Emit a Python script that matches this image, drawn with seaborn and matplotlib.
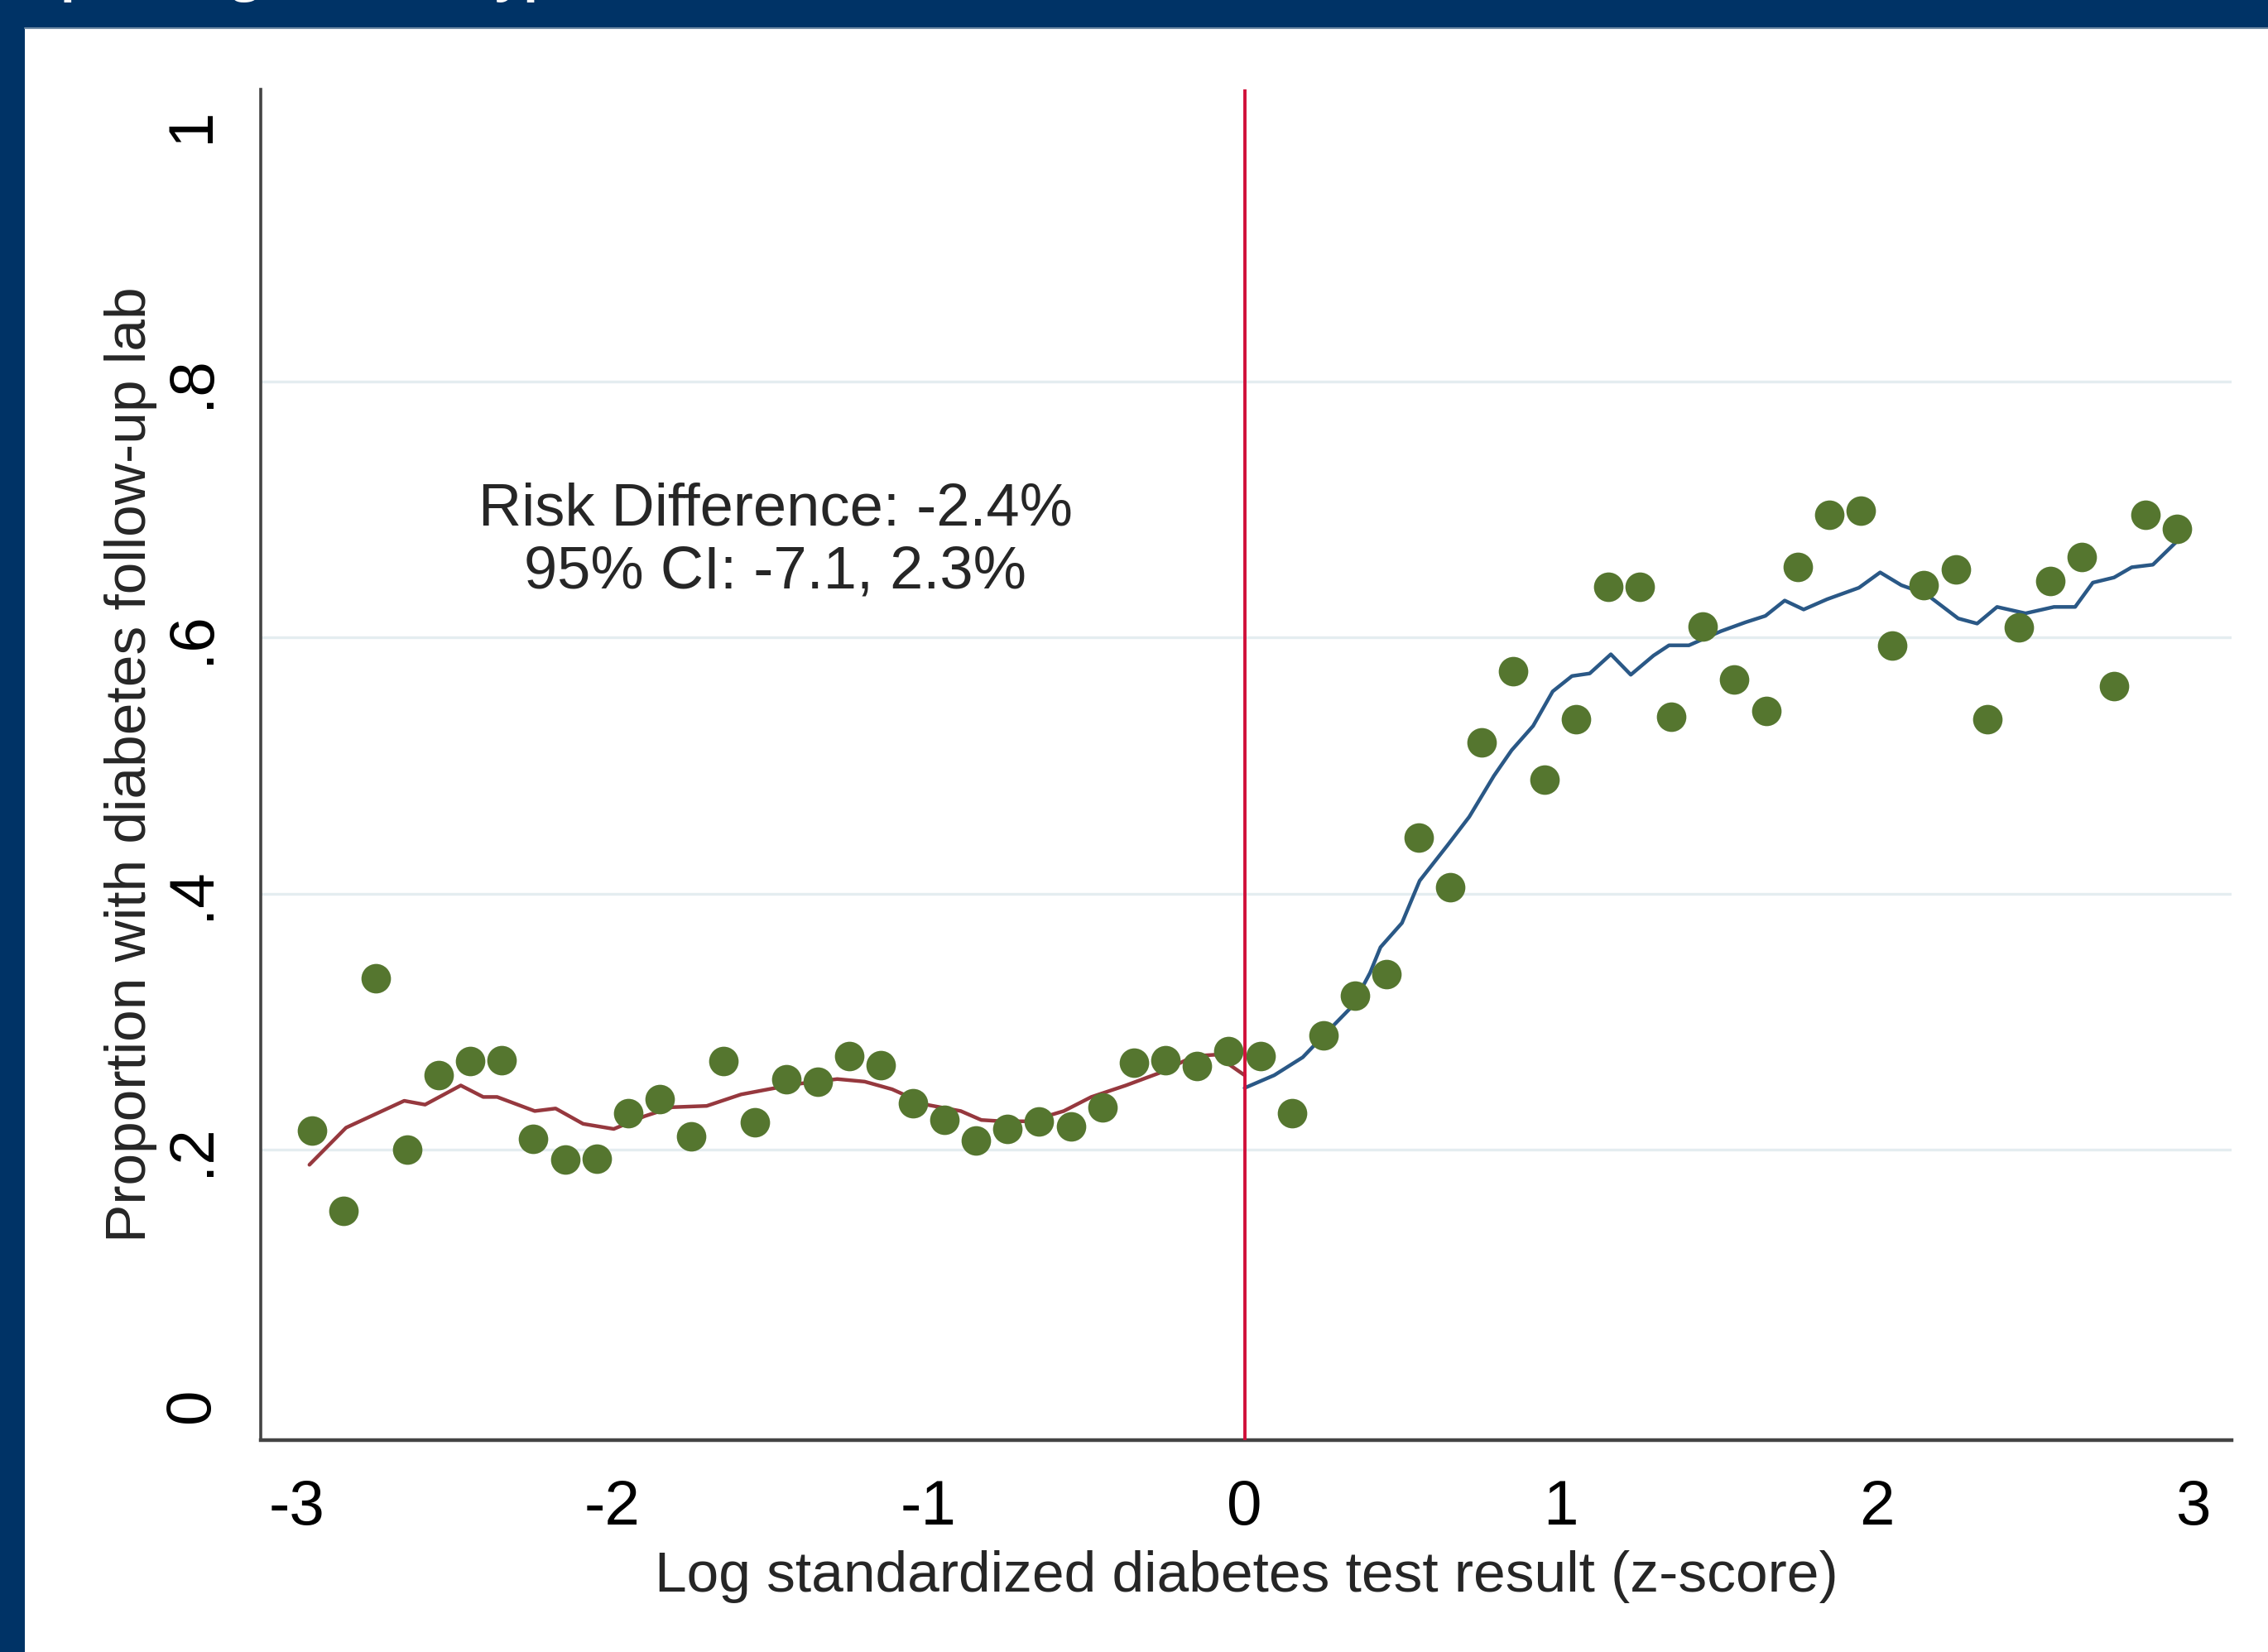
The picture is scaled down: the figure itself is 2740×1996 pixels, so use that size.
import numpy as np
import pandas as pd
import matplotlib
matplotlib.use("Agg")
import matplotlib.pyplot as plt
import seaborn as sns
from matplotlib.patches import Rectangle

# binned means (green dots)
bin_x = [-2.95, -2.85, -2.75, -2.65, -2.55, -2.45, -2.35, -2.25, -2.15, -2.05,
         -1.95, -1.85, -1.75, -1.65, -1.55, -1.45, -1.35, -1.25, -1.15, -1.05,
         -0.95, -0.85, -0.75, -0.65, -0.55, -0.45, -0.35, -0.25, -0.15, -0.05,
         0.05, 0.15, 0.25, 0.35, 0.45, 0.55, 0.65, 0.75, 0.85, 0.95,
         1.05, 1.15, 1.25, 1.35, 1.45, 1.55, 1.65, 1.75, 1.85, 1.95,
         2.05, 2.15, 2.25, 2.35, 2.45, 2.55, 2.65, 2.75, 2.85, 2.95]
bin_y = [0.215, 0.152, 0.334, 0.200, 0.258, 0.269, 0.270, 0.208, 0.192, 0.193,
         0.228, 0.239, 0.210, 0.269, 0.221, 0.255, 0.253, 0.273, 0.266, 0.236,
         0.223, 0.207, 0.216, 0.222, 0.218, 0.233, 0.268, 0.270, 0.265, 0.277,
         0.273, 0.228, 0.289, 0.320, 0.337, 0.444, 0.405, 0.518, 0.574, 0.489,
         0.536, 0.640, 0.640, 0.538, 0.609, 0.567, 0.543, 0.655, 0.696, 0.699,
         0.594, 0.641, 0.653, 0.536, 0.608, 0.644, 0.663, 0.562, 0.696, 0.685]

# local polynomial fit, below threshold
left_x = [-2.959, -2.843, -2.659, -2.593, -2.480, -2.409, -2.365, -2.246, -2.180,
          -2.093, -1.996, -1.898, -1.811, -1.702, -1.593, -1.507, -1.420, -1.289,
          -1.202, -1.115, -1.007, -0.898, -0.833, -0.767, -0.680, -0.572, -0.485,
          -0.376, -0.267, -0.159, -0.093, 0.0]
left_y = [0.188, 0.217, 0.238, 0.235, 0.250, 0.241, 0.241, 0.230, 0.232,
          0.220, 0.216, 0.226, 0.233, 0.234, 0.243, 0.247, 0.251, 0.255,
          0.253, 0.247, 0.235, 0.230, 0.223, 0.222, 0.222, 0.230, 0.241,
          0.250, 0.260, 0.273, 0.274, 0.258]

# local polynomial fit, above threshold
right_x = [0.0, 0.094, 0.184, 0.262, 0.341, 0.397, 0.430, 0.498, 0.554, 0.643,
           0.711, 0.789, 0.845, 0.913, 0.975, 1.036, 1.092, 1.159, 1.222, 1.294,
           1.343, 1.406, 1.507, 1.585, 1.648, 1.709, 1.769, 1.843, 1.944, 2.011,
           2.078, 2.157, 2.258, 2.318, 2.381, 2.471, 2.561, 2.628, 2.684, 2.751,
           2.807, 2.874, 2.953]
right_y = [0.248, 0.258, 0.272, 0.292, 0.312, 0.338, 0.358, 0.377, 0.410, 0.438,
           0.460, 0.492, 0.512, 0.531, 0.558, 0.570, 0.572, 0.587, 0.571, 0.586,
           0.594, 0.594, 0.605, 0.612, 0.617, 0.629, 0.622, 0.630, 0.639, 0.651,
           0.641, 0.634, 0.615, 0.611, 0.624, 0.619, 0.624, 0.624, 0.643, 0.647,
           0.655, 0.657, 0.676]

x_ticks = [-3, -2, -1, 0, 1, 2, 3]
y_ticks = [0, 0.2, 0.4, 0.6, 0.8, 1.0]
y_ticklabels = ["0", ".2", ".4", ".6", ".8", "1"]

sns.set_style("white")
plt.rcParams['font.family'] = ['Liberation Sans', 'DejaVu Sans']

navy = "#003366"
fig = plt.figure(figsize=(27.4, 19.96), dpi=100, facecolor=navy)

# white slide panel
fig.patches.append(Rectangle((30 / 2740, 0), 1, 1 - 34 / 1996, transform=fig.transFigure,
                             facecolor="white", edgecolor="none", zorder=-5))
fig.add_artist(plt.Line2D([30 / 2740, 1], [1 - 34 / 1996] * 2, transform=fig.transFigure,
                          color="#6f8aa3", lw=1.5, zorder=-4))
# slide title, cut off at top
fig.text(40 / 2740, 1 + 12 / 1996, "Spending trends (hypothetical)", color="white",
         fontsize=43, fontweight="bold", family=["Open Sans", "DejaVu Sans"],
         ha="left", va="baseline")

ax = fig.add_axes([0.11496, 0.12826, 0.86898, 0.81763])
ax.set_facecolor("white")

for yv in [0.2, 0.4, 0.6, 0.8]:
    ax.axhline(yv, color="#e4edf0", lw=2.4, zorder=0)

sns.lineplot(x=left_x, y=left_y, ax=ax, color="#96383e", lw=3.2, zorder=2)
sns.lineplot(x=right_x, y=right_y, ax=ax, color="#2a5886", lw=3.2, zorder=2)
sns.scatterplot(x=bin_x, y=bin_y, ax=ax, s=660, color="#55762f", linewidth=0, zorder=3)
ax.axvline(0, color="#d0103a", lw=2.8, zorder=4)

ax.set_xlim(-3.113, 3.123)
ax.set_ylim(-0.0272, 1.0285)
ax.set_xticks(x_ticks)
ax.set_xticklabels([str(v) for v in x_ticks])
ax.set_yticks(y_ticks)
ax.set_yticklabels(y_ticklabels)

for s in ["top", "right"]:
    ax.spines[s].set_visible(False)
for s in ["left", "bottom"]:
    ax.spines[s].set_color("#444444")
    ax.spines[s].set_linewidth(2.6)
ax.spines["bottom"].set_linewidth(3.2)

ax.tick_params(axis="both", direction="out", length=20, width=2, color="#707070",
               labelsize=55, labelcolor="black")
ax.tick_params(axis="x", pad=14)
ax.tick_params(axis="y", pad=14, labelrotation=90)
for lab in ax.get_yticklabels():
    lab.set_va("center")

ax.set_xlabel("Log standardized diabetes test result (z-score)", fontsize=50)
ax.set_ylabel("Proportion with diabetes follow-up lab", fontsize=50)
ax.xaxis.set_label_coords(0.5, -0.0815)
ax.yaxis.set_label_coords(-0.0525, 0.5)

ax.text(-1.485, 0.688, "Risk Difference: -2.4%", fontsize=52, ha="center", va="baseline")
ax.text(-1.485, 0.639, "95% CI: -7.1, 2.3%", fontsize=52, ha="center", va="baseline")

fig.savefig("out.png", dpi=100, facecolor=navy)
